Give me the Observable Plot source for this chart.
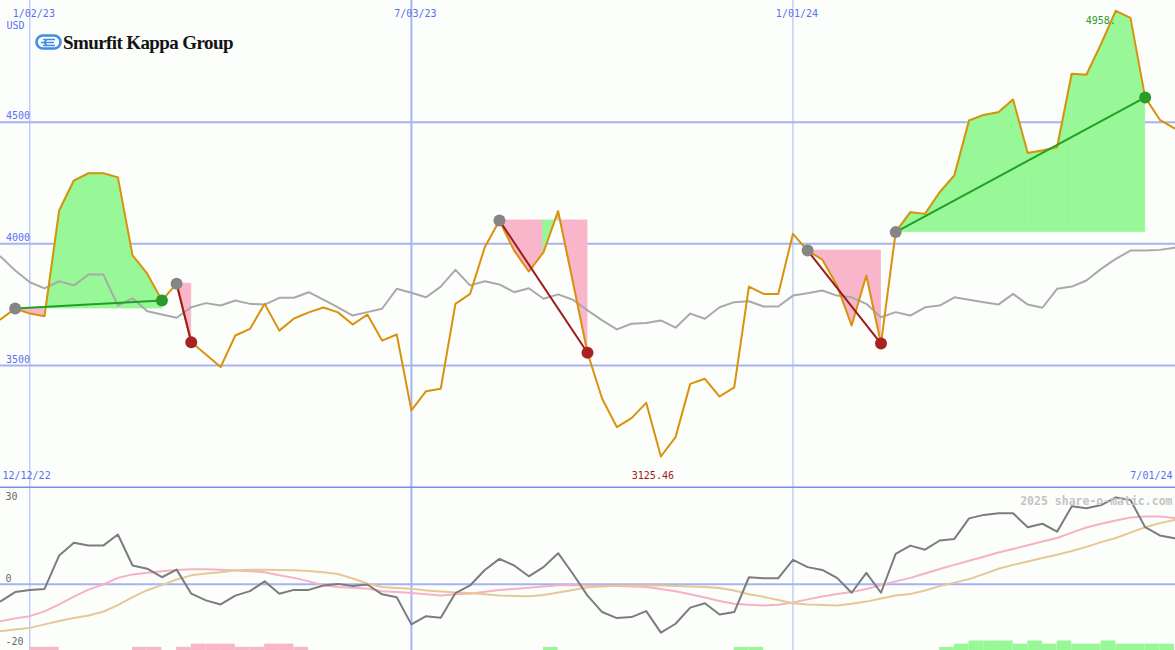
<!DOCTYPE html>
<html><head><meta charset="utf-8">
<script src="https://cdn.jsdelivr.net/npm/d3@7"></script>
<script src="https://cdn.jsdelivr.net/npm/@observablehq/plot@0.6"></script>
<style>
html,body{margin:0;padding:0;background:#fcfefc;}
#wrap{position:relative;width:1175px;height:650px;overflow:hidden;background:#fcfefc;}
#wrap svg{display:block;}
#logo{position:absolute;left:35px;top:34px;}
#logoText{position:absolute;left:63px;top:33px;font-family:"Liberation Serif",serif;font-weight:bold;font-size:19px;line-height:20px;letter-spacing:-0.6px;color:#141414;white-space:nowrap;}
</style></head><body>
<div id="wrap"><div id="topPanel"></div><div id="bottomPanel"></div>
<svg id="logo" width="28" height="17" viewBox="0 0 28 17">
<rect x="1.5" y="1.5" width="24" height="13" rx="6.5" fill="#fff" stroke="#3d8fe6" stroke-width="2.6"/>
<path d="M8 5.5 H20 M6 8.5 H19 M8 11.5 H20 M9 8.5 L12 5.5 M9 8.5 L12 11.5" stroke="#3d8fe6" stroke-width="1.6" fill="none"/>
</svg>
<div id="logoText">Smurfit Kappa Group</div></div>
<script>
// ---- data ----
const firstDate = "2022-12-19";
const lastDate = "2024-07-01";
const price = [3689,3734,3713,3702,4137,4260,4290,4290,4273,3952,
 3877,3767,3836,3595,3545,3493,3623,3650,3753,3643,
 3693,3718,3738,3718,3668,3709,3602,3627,3315,3394,
 3404,3753,3794,3986,4096,3972,3886,3965,4134,3845,
 3552,3363,3246,3283,3346,3125.46,3205,3424,3445,3372,
 3410,3824,3794,3794,4041,3972,3935,3829,3664,3870,
 3590,4048,4130,4123,4212,4281,4507,4530,4541,4593,
 4373,4384,4397,4699,4695,4822,4958,4929,4602,4510,
 4475];
const bench = [3948,3890,3842,3817,3846,3829,3874,3874,3746,3776,
 3723,3709,3696,3739,3756,3746,3767,3753,3750,3778,
 3778,3801,3770,3739,3705,3719,3733,3815,3799,3780,
 3824,3893,3829,3846,3833,3801,3817,3774,3792,3770,
 3726,3685,3648,3671,3674,3685,3655,3713,3692,3739,
 3760,3764,3742,3742,3787,3797,3808,3787,3780,3753,
 3698,3719,3705,3739,3746,3780,3770,3760,3750,3794,
 3750,3737,3815,3824,3849,3897,3938,3972,3972,3975,
 3984];
const momentum = [-5.4,-2.5,-1.8,-1.5,9.1,13.1,12.2,12.2,15.7,5.9,
 4.9,2.2,4.6,-3.0,-5.1,-6.4,-3.6,-2.2,0.9,-3.0,
 -1.8,-1.8,-0.4,0.1,-0.6,-0.1,-3.2,-4.1,-12.7,-10.1,
 -10.6,-2.8,-0.4,4.5,8.0,5.9,2.5,5.4,9.8,3.3,
 -3.6,-8.8,-10.7,-10.4,-8.5,-15.3,-12.5,-7.4,-6.0,-9.6,
 -8.8,2.2,1.9,1.9,7.7,5.4,4.5,2.0,-2.7,3.6,
 -2.7,9.6,12.2,10.9,13.8,14.3,20.8,21.9,22.4,22.4,
 18.0,19.1,16.6,24.6,24.0,25.0,27.4,26.6,18.0,15.4,
 14.5];
const fastAvg = [-11.7,-10.8,-10.1,-8.6,-6.4,-3.9,-1.7,-0.1,2.0,3.1,
 3.6,4.1,4.5,4.7,4.7,4.6,4.3,4.1,3.8,2.8,
 2.0,0.9,-0.3,-0.9,-1.1,-1.4,-2.2,-2.5,-2.8,-3.2,
 -3.6,-3.2,-3.0,-2.4,-1.8,-1.5,-1.1,-0.7,-0.3,-0.3,
 -0.4,-0.5,-0.6,-0.7,-0.9,-1.5,-2.2,-3.2,-4.2,-5.3,
 -6.2,-6.5,-6.7,-6.5,-5.8,-4.8,-3.9,-3.1,-2.5,-1.5,
 -0.3,0.9,2.0,3.4,4.8,6.1,7.4,8.7,10.0,11.1,
 12.3,13.5,14.6,16.3,17.9,19.1,20.1,21.1,21.4,21.4,
 20.9];
const slowAvg = [-14.9,-14.3,-13.8,-12.7,-11.6,-10.7,-9.9,-8.7,-6.6,-4.1,
 -1.9,-0.3,1.5,2.8,3.4,3.8,4.4,4.6,4.6,4.5,
 4.4,4.2,3.8,3.2,1.8,0.2,-0.9,-1.2,-1.4,-2.0,
 -2.3,-2.6,-2.8,-3.2,-3.6,-3.7,-3.8,-3.4,-2.6,-1.8,
 -1.0,-0.7,-0.5,-0.4,-0.4,-0.4,-0.6,-0.7,-0.9,-1.2,
 -2.0,-3.2,-4.0,-5.0,-6.0,-6.4,-6.6,-6.7,-6.2,-5.5,
 -4.5,-3.6,-3.1,-2.0,-0.6,0.5,1.6,3.2,4.9,6.1,
 7.2,8.3,9.3,10.5,11.8,13.3,14.6,16.3,18.0,19.3,
 20.3];
const signal = [0,0,-1,-1,0,0,0,0,0,-1,
 -1,0,-1,-2,-2,-2,-1,-1,-2,-2,
 -1,0,0,0,0,0,0,0,0,0,
 0,0,0,0,0,0,0,1,0,0,
 0,0,0,0,0,0,0,0,0,0,
 1,1,0,0,0,0,0,0,0,0,
 0,0,0,0,1,2,3,3,3,2,
 3,2,3,2,2,3,2,2,2,2];
const tradeStart = [1,12,34,55,61];
const tradeEnd = [11,13,40,60,78];
const gridDates = ["2023-01-02","2023-07-03","2024-01-01"];
const gridLabels = ["1/02/23","7/03/23","1/01/24"];
const priceTicks = [3500,4000,4500];
const momTopTick = [30];
const momTicks = [0,-20];
const edgeLabels = ["12/12/22","7/01/24"];
const unitLabel = "USD";
const maxLabel = "4958.";
const minLabel = "3125.46";
const watermark = "2025 share-o-matic.com";

(function () {
// ---- styles ----
const GRID = "#a6b3f2", SEP = "#7b8cf0", LBL = "#5c6ff2";
const ORANGE = "#d9920a", GRAYLINE = "#a9a9a9";
const GFILL = "#98f898", PFILL = "#f9b6ca";
const GLINE = "#22a022", RLINE = "#9e1a1a", GDOT = "#2a9a2a", RDOT = "#a82222", SDOT = "#858585";
const MONO = "DejaVu Sans Mono, monospace";

const dates = d3.utcMonday.range(new Date(firstDate), d3.utcDay.offset(new Date(lastDate), 1));
const rows = dates.map((date, i) => ({date, price: price[i], bench: bench[i], mom: momentum[i], fast: fastAvg[i], slow: slowAvg[i]}));
const gDates = gridDates.map(d => new Date(d));

const fillRows = [];
tradeStart.forEach((s, t) => {
  const e = tradeEnd[t], entry = price[s];
  for (let i = s; i < e; i++) {
    const color = price[i + 1] > entry ? GFILL : PFILL;
    fillRows.push({seg: t + "-" + i, date: dates[i], entry, p: price[i], color});
    fillRows.push({seg: t + "-" + i, date: dates[i + 1], entry, p: price[i + 1], color});
  }
});
const trades = tradeStart.map((s, t) => {
  const e = tradeEnd[t]; const win = price[e] > price[s];
  return {d1: dates[s], p1: price[s], d2: dates[e], p2: price[e], line: win ? GLINE : RLINE, dot: win ? GDOT : RDOT};
});
const iMax = price.indexOf(d3.max(price)), iMin = price.indexOf(d3.min(price));

const W = 1175, H1 = 488, H2 = 162;
const xScale = {type: "utc", domain: [dates[0], dates[dates.length - 1]], range: [0, 1174], axis: null};
const yTop = [2993.8, 5000.4];
const yBot = [-20.95, 30.24];
const BAR_UNIT = 1.0;

const topPlot = Plot.plot({
  width: W, height: H1, margin: 0,
  style: {background: "transparent"},
  x: xScale,
  y: {domain: yTop, axis: null},
  color: {type: "identity"},
  marks: [
    Plot.ruleY(priceTicks, {y: d => d, stroke: GRID, strokeWidth: 2}),
    Plot.ruleX(gDates, {x: d => d, stroke: GRID, strokeWidth: (d, i) => i === 1 ? 2 : 1}),
    Plot.ruleY([yTop[0]], {y: d => d, dy: -1, stroke: SEP, strokeWidth: 2}),
    Plot.areaY(fillRows, {x: "date", y1: "entry", y2: "p", z: "seg", fill: "color", stroke: "color", strokeWidth: 0.8}),
    Plot.line(rows, {x: "date", y: "bench", stroke: GRAYLINE, strokeWidth: 2}),
    Plot.line(rows, {x: "date", y: "price", stroke: ORANGE, strokeWidth: 2}),
    Plot.link(trades, {x1: "d1", y1: "p1", x2: "d2", y2: "p2", stroke: "line", strokeWidth: 2}),
    Plot.dot(trades, {x: "d1", y: "p1", r: 6, fill: SDOT}),
    Plot.dot(trades, {x: "d2", y: "p2", r: 6, fill: "dot"}),
    Plot.text(gDates, {x: d => d, text: (d, i) => gridLabels[i], frameAnchor: "top", dy: 9, dx: 4, fill: LBL, fontFamily: MONO, fontSize: 10}),
    Plot.text([unitLabel], {text: d => d, frameAnchor: "top-left", dx: 6, dy: 21, textAnchor: "start", fill: LBL, fontFamily: MONO, fontSize: 10}),
    Plot.text(priceTicks, {y: d => d, text: d => String(d), frameAnchor: "left", dx: 5.5, dy: -6, textAnchor: "start", fill: LBL, fontFamily: MONO, fontSize: 10}),
    Plot.text([edgeLabels[0]], {text: d => d, frameAnchor: "bottom-left", dx: 2, dy: -9.5, textAnchor: "start", fill: LBL, fontFamily: MONO, fontSize: 10}),
    Plot.text([edgeLabels[1]], {text: d => d, frameAnchor: "bottom-right", dx: -3, dy: -9.5, textAnchor: "end", fill: LBL, fontFamily: MONO, fontSize: 10}),
    Plot.text([iMin], {x: i => dates[i], text: () => minLabel, frameAnchor: "bottom", dx: -8, dy: -9.5, fill: "#a01c1c", fontFamily: MONO, fontSize: 10}),
    Plot.text([iMax], {x: i => dates[i], y: i => price[i], text: () => maxLabel, dy: 10, textAnchor: "end", fill: GDOT, fontFamily: MONO, fontSize: 10})
  ]
});

const barRows = signal.map((lvl, i) => ({d0: dates[i], d1: dates[i + 1], lvl})).filter(d => d.lvl !== 0);

const bottomPlot = Plot.plot({
  width: W, height: H2, margin: 0,
  style: {background: "transparent"},
  x: xScale,
  y: {domain: yBot, axis: null},
  color: {type: "identity"},
  marks: [
    Plot.ruleY([0], {y: d => d, stroke: GRID, strokeWidth: 2}),
    Plot.ruleX(gDates, {x: d => d, stroke: GRID, strokeWidth: (d, i) => i === 1 ? 2 : 1}),
    Plot.rect(barRows, {x1: "d0", x2: "d1", y1: () => yBot[0], y2: d => yBot[0] + Math.abs(d.lvl) * BAR_UNIT, fill: d => d.lvl > 0 ? GFILL : PFILL}),
    Plot.line(rows, {x: "date", y: "fast", stroke: "#f8b0c6", strokeWidth: 2}),
    Plot.line(rows, {x: "date", y: "slow", stroke: "#e6c896", strokeWidth: 2}),
    Plot.line(rows, {x: "date", y: "mom", stroke: "#7c7c7c", strokeWidth: 2}),
    Plot.text([watermark], {text: d => d, frameAnchor: "top-right", dx: -3, dy: 8.5, textAnchor: "end", fill: "#c4c4c4", fontFamily: MONO, fontSize: 11.5, fontWeight: "bold"}),
    Plot.text(momTopTick, {y: d => d, text: d => String(d), frameAnchor: "left", dx: 5, dy: 7.5, textAnchor: "start", fill: "#6a6a6a", fontFamily: MONO, fontSize: 10}),
    Plot.text(momTicks, {y: d => d, text: d => String(d), frameAnchor: "left", dx: 5, dy: -5.5, textAnchor: "start", fill: "#6a6a6a", fontFamily: MONO, fontSize: 10})
  ]
});

document.getElementById("topPanel").appendChild(topPlot);
document.getElementById("bottomPanel").appendChild(bottomPlot);
})();
</script></body></html>
